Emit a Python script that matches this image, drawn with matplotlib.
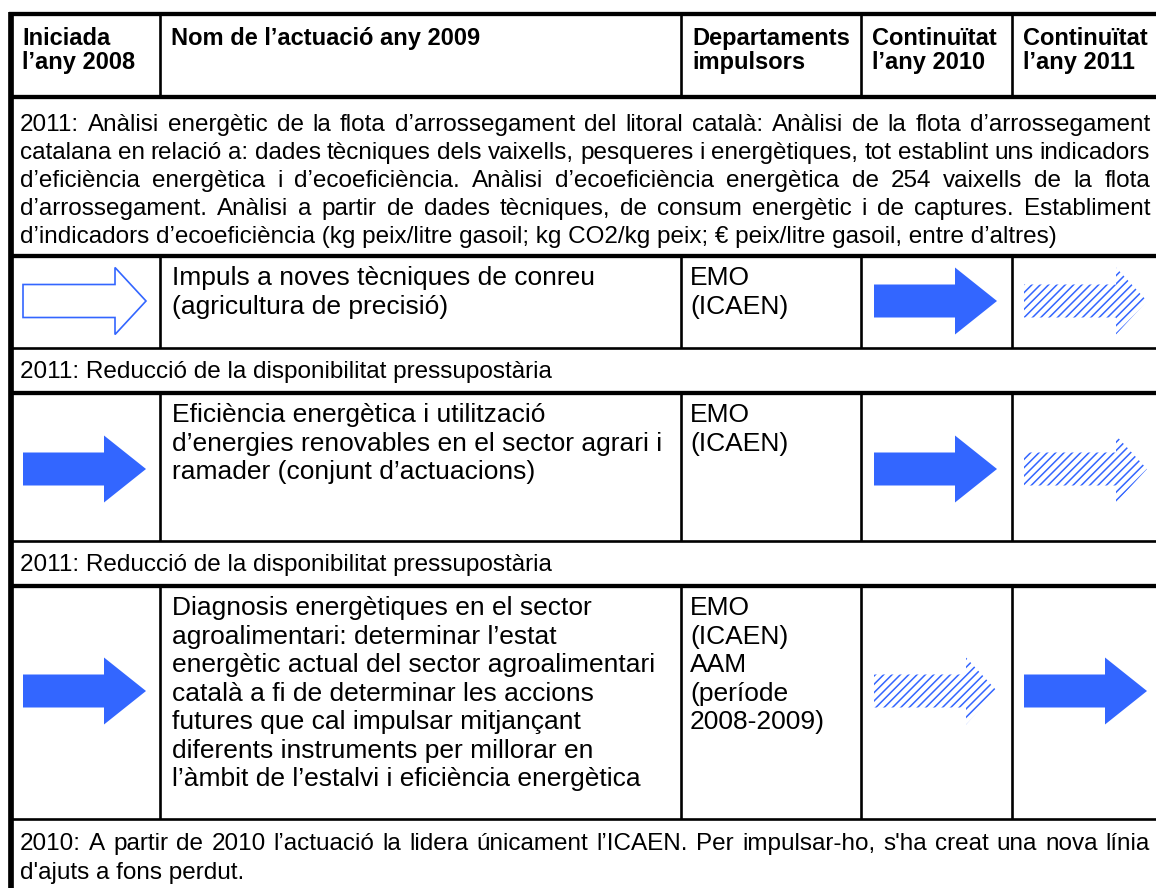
import matplotlib.pyplot as plt
from matplotlib.patches import Polygon

plt.rcParams['font.family'] = ['Liberation Sans', 'DejaVu Sans']
plt.rcParams['hatch.linewidth'] = 1.1

BLUE = '#3366FF'

# table content
headers = [['Iniciada', 'l’any 2008'],
           ['Nom de l’actuació any 2009'],
           ['Departaments', 'impulsors'],
           ['Continuïtat', 'l’any 2010'],
           ['Continuïtat', 'l’any 2011']]

note1 = ['2011: Anàlisi energètic de la flota d’arrossegament del litoral català: Anàlisi de la flota d’arrossegament',
         'catalana en relació a: dades tècniques dels vaixells, pesqueres i energètiques, tot establint uns indicadors',
         'd’eficiència energètica i d’ecoeficiència. Anàlisi d’ecoeficiència energètica de 254 vaixells de la flota',
         'd’arrossegament. Anàlisi a partir de dades tècniques, de consum energètic i de captures. Establiment',
         'd’indicadors d’ecoeficiència (kg peix/litre gasoil; kg CO2/kg peix; € peix/litre gasoil, entre d’altres)']
note2 = ['2011: Reducció de la disponibilitat pressupostària']
note3 = ['2011: Reducció de la disponibilitat pressupostària']
note4 = ['2010: A partir de 2010 l’actuació la lidera únicament l’ICAEN. Per impulsar-ho, s\'ha creat una nova línia',
         'd\'ajuts a fons perdut.']

names = [['Impuls a noves tècniques de conreu', '(agricultura de precisió)'],
         ['Eficiència energètica i utilització', 'd’energies renovables en el sector agrari i',
          'ramader (conjunt d’actuacions)'],
         ['Diagnosis energètiques en el sector', 'agroalimentari: determinar l’estat',
          'energètic actual del sector agroalimentari', 'català a fi de determinar les accions',
          'futures que cal impulsar mitjançant', 'diferents instruments per millorar en',
          'l’àmbit de l’estalvi i eficiència energètica']]
depts = [['EMO', '(ICAEN)'],
         ['EMO', '(ICAEN)'],
         ['EMO', '(ICAEN)', 'AAM', '(període', '2008-2009)']]

# arrow status for 2008, 2010, 2011
status_2008 = ['open', 'solid', 'solid']
status_2010 = ['solid', 'solid', 'hatched']
status_2011 = ['hatched', 'hatched', 'solid']

# ---- layout (pixels) ----
W, H = 1156, 888
fig = plt.figure(figsize=(W / 100, H / 100), dpi=100)
ax = fig.add_axes([0, 0, 1, 1])
ax.set_xlim(0, W)
ax.set_ylim(H, 0)
ax.axis('off')
renderer = fig.canvas.get_renderer()

xL = 11
cols = [xL, 160, 681, 861, 1012, W]
y_top, y_head = 14, 97
row_tops = [256, 393, 586]
row_bots = [348, 541, 819]
arrow_y = [301, 469, 691]
THICK, THIN = 3.1, 1.9


def hline(y, lw):
    ax.plot([xL - 2, W], [y, y], color='black', lw=lw, solid_capstyle='butt')


def vline(x, y0, y1, lw):
    ax.plot([x, x], [y0, y1], color='black', lw=lw, solid_capstyle='butt')


hline(y_top, THICK)
hline(y_head, THICK)
for t, b in zip(row_tops, row_bots):
    hline(t, THICK)
    hline(b, THIN)
vline(xL, y_top - 2, H, THICK + 1)
for x in cols[1:-1]:
    vline(x, y_top, y_head, THIN)
    for t, b in zip(row_tops, row_bots):
        vline(x, t, b, THIN)


def width(s, size, weight='normal'):
    t = ax.text(0, 0, s, fontsize=size, fontweight=weight)
    w = t.get_window_extent(renderer).width
    t.remove()
    return w


def block(lines, x, y0, dy, size, weight='normal'):
    for i, line in enumerate(lines):
        ax.text(x, y0 + i * dy, line, fontsize=size, fontweight=weight,
                va='baseline', ha='left', color='black')


def justified(lines, x0, x1, y0, dy, size):
    for i, line in enumerate(lines):
        y = y0 + i * dy
        words = line.split(' ')
        if i == len(lines) - 1 or len(words) < 2:
            ax.text(x0, y, line, fontsize=size, va='baseline', ha='left')
            continue
        ws = [width(w, size) for w in words]
        gap = (x1 - x0 - sum(ws)) / (len(words) - 1)
        x = x0
        for w, wd in zip(words, ws):
            ax.text(x, y, w, fontsize=size, va='baseline', ha='left')
            x += wd + gap


# header
for c, lines in enumerate(headers):
    block(lines, cols[c] + 11, 45, 23.5, 17, 'bold')

# notes
justified(note1, 20, 1150, 131, 28, 17.5)
justified(note2, 20, 1150, 378, 28, 17.5)
justified(note3, 20, 1150, 571, 28, 17.5)
justified(note4, 20, 1150, 850, 29, 17.5)

# rows
for r in range(3):
    block(names[r], cols[1] + 12, row_tops[r] + 29, 28.5, 19)
    block(depts[r], cols[2] + 9, row_tops[r] + 29, 28.5, 19)


def arrow(x0, yc, kind):
    length, bh, hh = 123, 16.5, 33.5
    head = 42 if kind == 'solid' else 31
    x1 = x0 + length
    xb = x1 - head
    pts = [(x0, yc - bh), (xb, yc - bh), (xb, yc - hh), (x1, yc),
           (xb, yc + hh), (xb, yc + bh), (x0, yc + bh)]
    if kind == 'solid':
        p = Polygon(pts, closed=True, facecolor=BLUE, edgecolor='none')
    elif kind == 'open':
        p = Polygon(pts, closed=True, facecolor='white', edgecolor=BLUE, lw=1.2)
    else:
        p = Polygon(pts, closed=True, facecolor='white', edgecolor=BLUE,
                    lw=0, hatch='////')
    ax.add_patch(p)


for r in range(3):
    arrow(cols[0] + 12, arrow_y[r], status_2008[r])
    arrow(cols[3] + 13, arrow_y[r], status_2010[r])
    arrow(cols[4] + 12, arrow_y[r], status_2011[r])

fig.savefig('out.png', dpi=100)
